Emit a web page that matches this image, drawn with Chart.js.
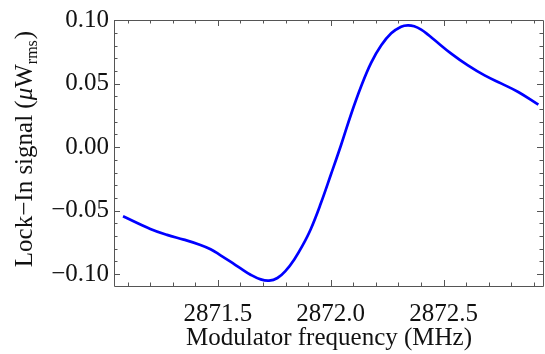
<!DOCTYPE html>
<html>
<head>
<meta charset="utf-8">
<script src="https://cdn.jsdelivr.net/npm/chart.js@4"></script>
<style>
html,body{margin:0;padding:0;background:#fff;}
#wrap{width:545px;height:354px;position:relative;}
</style>
</head>
<body>
<div id="wrap"><canvas id="c" width="545" height="354"></canvas></div>
<script>
// Data
const freqMHz = [2871.080, 2871.201, 2871.275, 2871.349, 2871.423, 2871.468, 2871.512, 2871.556, 2871.601, 2871.645, 2871.690, 2871.727, 2871.764, 2871.801, 2871.838, 2871.875, 2871.912, 2871.956, 2872.001, 2872.046, 2872.090, 2872.135, 2872.179, 2872.224, 2872.268, 2872.312, 2872.342, 2872.370, 2872.401, 2872.431, 2872.460, 2872.534, 2872.608, 2872.682, 2872.757, 2872.831, 2872.920];
const signal = [-0.0545, -0.0645, -0.0692, -0.0729, -0.0771, -0.0805, -0.0853, -0.0903, -0.0956, -0.1006, -0.1043, -0.1053, -0.1032, -0.0974, -0.0887, -0.0777, -0.0645, -0.0445, -0.0216, 0.0017, 0.0258, 0.0480, 0.0665, 0.0803, 0.0898, 0.0950, 0.0961, 0.0953, 0.0927, 0.0888, 0.0845, 0.0738, 0.0645, 0.0566, 0.0501, 0.0435, 0.0335];
const xMajorTicks = [2871.5, 2872.0, 2872.5];
const xMinorTicks = [2871.1, 2871.2, 2871.3, 2871.4, 2871.6, 2871.7, 2871.8, 2871.9, 2872.1, 2872.2, 2872.3, 2872.4, 2872.6, 2872.7, 2872.8, 2872.9];
const yMajorTicks = [-0.10, -0.05, 0.00, 0.05, 0.10];
const yMinorTicks = [-0.09, -0.08, -0.07, -0.06, -0.04, -0.03, -0.02, -0.01, 0.01, 0.02, 0.03, 0.04, 0.06, 0.07, 0.08, 0.09];
const xTitle = "Modulator frequency (MHz)";
const yTitleParts = [
  {t: "Lock\u2212In signal (", style: ""},
  {t: "\u03bc", style: "italic "},
  {t: "W", style: ""},
  {t: "rms", style: "", sub: true},
  {t: ")", style: ""}
];

const FONT = "'Liberation Serif', 'Times New Roman', serif";
const FS = 25;
const frameColor = "#555";

const framePlugin = {
  id: 'framePlugin',
  afterDraw(chart) {
    const ctx = chart.ctx, a = chart.chartArea;
    const xs = chart.scales.x, ys = chart.scales.y;
    ctx.save();
    ctx.strokeStyle = frameColor;
    ctx.lineWidth = 1;
    ctx.beginPath();
    ctx.rect(Math.round(a.left) + 0.5, Math.round(a.top) + 0.5, Math.round(a.right - a.left) - 1, Math.round(a.bottom - a.top));
    ctx.stroke();
    const tick = (vals, len, axis) => {
      vals.forEach(v => {
        if (axis === 'x') {
          const p = Math.round(xs.getPixelForValue(v)) + 0.5;
          ctx.beginPath(); ctx.moveTo(p, a.bottom); ctx.lineTo(p, a.bottom - len); ctx.stroke();
          ctx.beginPath(); ctx.moveTo(p, a.top); ctx.lineTo(p, a.top + len); ctx.stroke();
        } else {
          const p = Math.round(ys.getPixelForValue(v)) + 0.5;
          ctx.beginPath(); ctx.moveTo(a.left, p); ctx.lineTo(a.left + len, p); ctx.stroke();
          ctx.beginPath(); ctx.moveTo(a.right - 1, p); ctx.lineTo(a.right - 1 - len, p); ctx.stroke();
        }
      });
    };
    tick(xMajorTicks, 6, 'x');
    tick(xMinorTicks, 3.5, 'x');
    tick(yMajorTicks, 6, 'y');
    tick(yMinorTicks, 3.5, 'y');

    // Y title with subscript
    ctx.fillStyle = "#111";
    ctx.textBaseline = 'alphabetic';
    ctx.textAlign = 'left';
    const measure = p => {
      ctx.font = p.style + (p.sub ? 16 : FS) + "px " + FONT;
      return ctx.measureText(p.t).width;
    };
    let total = 0;
    yTitleParts.forEach(p => total += measure(p) + (p.sub ? 1 : 0));
    const cx = 32, cy = 149;
    ctx.translate(cx, cy);
    ctx.rotate(-Math.PI / 2);
    let x = -total / 2;
    yTitleParts.forEach(p => {
      const w = measure(p);
      ctx.fillText(p.t, x, p.sub ? 5 : 0);
      x += w + (p.sub ? 1 : 0);
    });
    ctx.restore();
  }
};

new Chart(document.getElementById('c'), {
  type: 'line',
  data: {
    datasets: [{
      data: freqMHz.map((f, i) => ({x: f, y: signal[i]})),
      borderColor: '#0000ff',
      borderWidth: 2.7,
      pointRadius: 0,
      fill: false,
      tension: 0.4
    }]
  },
  options: {
    responsive: false,
    animation: false,
    devicePixelRatio: 1,
    layout: {padding: {top: 20, right: 1, left: 0, bottom: 0}},
    plugins: {legend: {display: false}, tooltip: {enabled: false}},
    scales: {
      x: {
        type: 'linear',
        min: 2871.04,
        max: 2872.945,
        afterBuildTicks: s => { s.ticks = xMajorTicks.map(v => ({value: v})); },
        afterFit: s => { s.height = 68; },
        grid: {display: false, drawTicks: false},
        border: {display: false},
        ticks: {
          padding: 13,
          color: '#111',
          font: {family: FONT, size: FS},
          callback: v => v.toFixed(1)
        },
        title: {
          display: true,
          text: xTitle,
          color: '#111',
          font: {family: FONT, size: FS},
          padding: {top: 0, bottom: 1}
        }
      },
      y: {
        type: 'linear',
        min: -0.1095,
        max: 0.1003,
        afterBuildTicks: s => { s.ticks = yMajorTicks.map(v => ({value: v})); },
        afterFit: s => { s.width = 114; },
        grid: {display: false, drawTicks: false},
        border: {display: false},
        ticks: {
          padding: 5,
          color: '#111',
          font: {family: FONT, size: FS},
          callback: v => (v < 0 ? "\u2212" : "") + Math.abs(v).toFixed(2)
        },
        title: {display: false}
      }
    }
  },
  plugins: [framePlugin]
});
</script>
</body>
</html>
